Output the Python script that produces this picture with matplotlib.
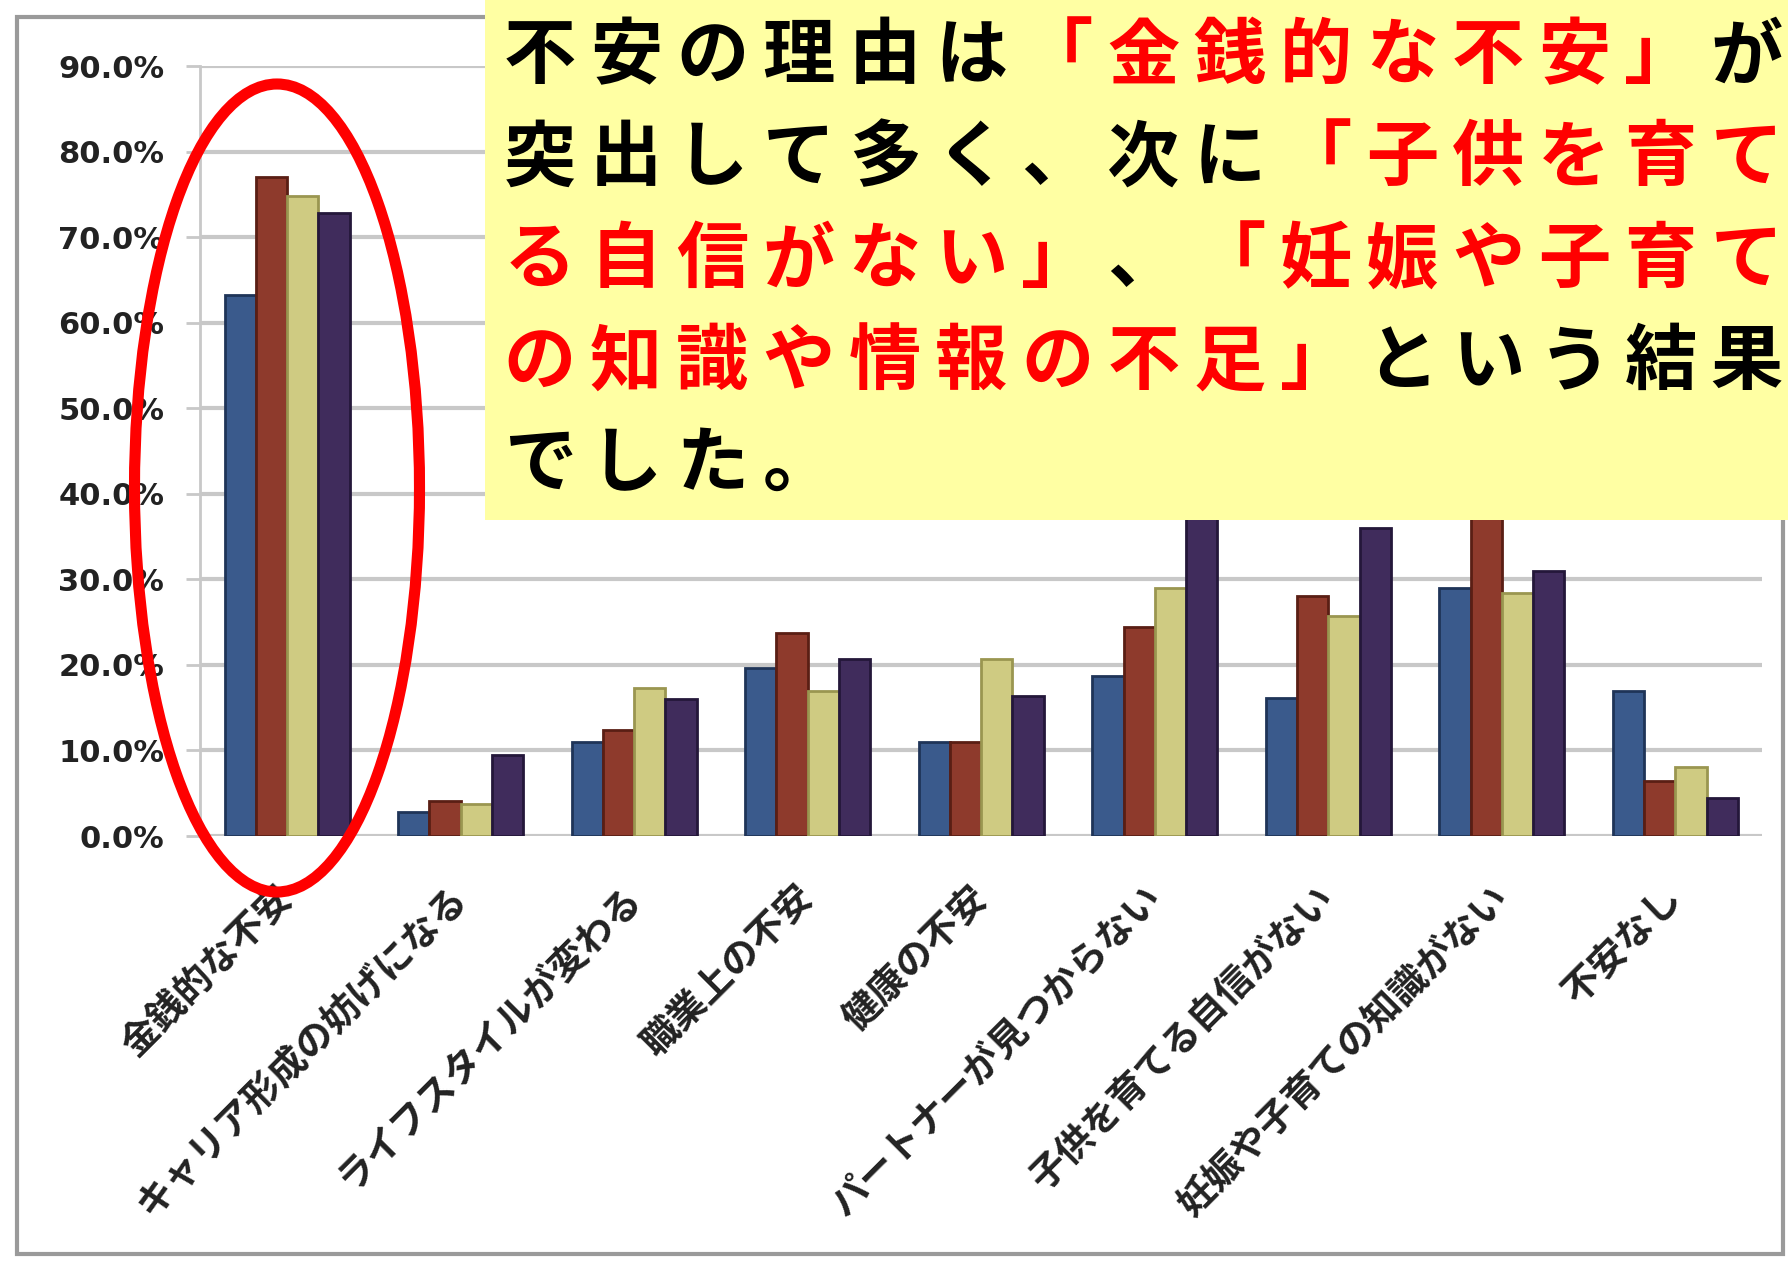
import matplotlib.pyplot as plt
import numpy as np
from matplotlib.patches import Ellipse, Rectangle

# 子育ての不安の理由 (4グループ, %)
categories = ["金銭的な不安", "キャリア形成の妨げになる", "ライフスタイルが変わる",
              "職業上の不安", "健康の不安", "パートナーが見つからない",
              "子供を育てる自信がない", "妊娠や子育ての知識がない", "不安なし"]
series_a = [63.3, 2.8, 11.0, 19.7, 11.0, 18.7, 16.1, 29.0, 17.0]
series_b = [77.0, 4.1, 12.4, 23.7, 11.0, 24.4, 28.1, 38.5, 6.4]
series_c = [74.8, 3.7, 17.3, 17.0, 20.7, 29.0, 25.7, 28.4, 8.1]
series_d = [72.8, 9.5, 16.0, 20.7, 16.4, 37.5, 36.0, 31.0, 4.4]
yticks = [0, 10, 20, 30, 40, 50, 60, 70, 80, 90]

colors = ["#3a5a8c", "#8e3a2c", "#cfcb82", "#402c5c"]
edges = ["#1f3458", "#5a1e14", "#9a9650", "#24173a"]

plt.rcParams['font.family'] = ['Noto Sans CJK JP', 'DejaVu Sans']

fig = plt.figure(figsize=(17.88, 12.64), dpi=100)
fig.patch.set_facecolor("white")

ax = fig.add_axes([0.112, 0.3386, 0.8736, 0.609])
x = np.arange(len(categories))
w = 0.18
for i, vals in enumerate([series_a, series_b, series_c, series_d]):
    ax.bar(x + (i - 1.5) * w, vals, w, color=colors[i], edgecolor=edges[i],
           linewidth=2, zorder=3)

ax.set_xlim(-0.5, len(categories) - 0.5)
ax.set_ylim(0, 90)
ax.set_yticks(yticks)
ax.set_yticklabels([f"{v:.1f}%" for v in yticks], fontsize=22,
                   fontweight="bold", family="DejaVu Sans", color="#222222")
ax.yaxis.grid(True, color="#c8c8c8", linewidth=3, zorder=0)
ax.tick_params(axis="y", length=10, width=2, color="#c8c8c8", pad=16)
ax.set_xticks(x)
ax.set_xticklabels(categories, rotation=45, ha="right", va="center",
                   rotation_mode="anchor", fontsize=27, fontweight="bold",
                   color="#222222")
ax.tick_params(axis="x", length=0, pad=40)
for side in ["top", "right", "bottom"]:
    ax.spines[side].set_visible(False)
ax.spines["left"].set_color("#c8c8c8")
ax.spines["left"].set_linewidth(2)
ax.set_facecolor("white")

# 枠・強調の楕円・説明ボックス (ピクセル座標)
ov = fig.add_axes([0, 0, 1, 1], zorder=5)
ov.set_xlim(0, 1788)
ov.set_ylim(1264, 0)
ov.axis("off")
ov.patch.set_alpha(0)

ov.add_patch(Rectangle((17, 17), 1766, 1237, fill=False, edgecolor="#9a9a9a", linewidth=3))
ov.add_patch(Ellipse((277, 488), 285, 808, fill=False, edgecolor="#ff0000", linewidth=8))
ov.add_patch(Rectangle((485, 0), 1303, 520, facecolor="#ffffa3", edgecolor="none"))

red = "#ff0000"
black = "#000000"
lines = [
    [("不安の理由は", black), ("「金銭的な不安」", red), ("が", black)],
    [("突出して多く、次に", black), ("「子供を育て", red)],
    [("る自信がない」", red), ("、", black), ("「妊娠や子育て", red)],
    [("の知識や情報の不足」", red), ("という結果", black)],
    [("でした。", black)],
]
x0, pitch, y0, lead = 540, 86.2, 57, 102
for row, parts in enumerate(lines):
    col = 0
    for txt, c in parts:
        for ch in txt:
            ov.text(x0 + col * pitch, y0 + row * lead, ch, color=c, fontsize=52,
                    fontweight="bold", ha="center", va="center")
            col += 1

fig.savefig("out.png", dpi=100)
